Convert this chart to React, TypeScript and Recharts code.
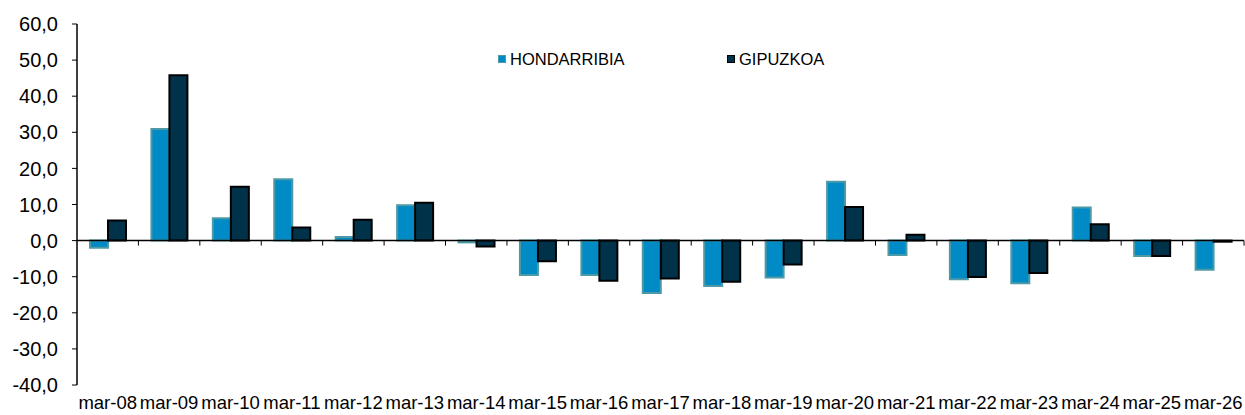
import { BarChart, Bar, XAxis, YAxis, ReferenceLine } from "recharts";

const categories = [
  "mar-08", "mar-09", "mar-10", "mar-11", "mar-12", "mar-13", "mar-14",
  "mar-15", "mar-16", "mar-17", "mar-18", "mar-19", "mar-20", "mar-21",
  "mar-22", "mar-23", "mar-24", "mar-25", "mar-26",
];
const hondarribia = [
  -2.0, 30.9, 6.2, 17.0, 1.0, 9.8, -0.5, -9.5, -9.5, -14.5, -12.6, -10.2,
  16.3, -4.0, -10.7, -11.8, 9.2, -4.3, -8.1,
];
const gipuzkoa = [
  5.6, 45.8, 14.9, 3.6, 5.8, 10.5, -1.6, -5.7, -11.1, -10.5, -11.4, -6.6,
  9.3, 1.6, -10.1, -9.0, 4.5, -4.3, -0.3,
];
const yTicks = [-40, -30, -20, -10, 0, 10, 20, 30, 40, 50, 60];

const FONT = "'Liberation Sans', Arial, sans-serif";
const H_FILL = "#008bc6";
const H_STROKE = "#4d9aa6";
const G_FILL = "#003349";
const G_STROKE = "#000000";

// zero line with small tick marks between the categories (Excel style)
function ZeroAxis(props: any) {
  const { x1, x2, y1 } = props;
  const n = categories.length;
  const step = (x2 - x1) / n;
  const ticks = [];
  for (let i = 1; i <= n; i++) {
    const x = x1 + step * i;
    ticks.push(<line key={i} x1={x} x2={x} y1={y1} y2={y1 + 5} stroke="#000" strokeWidth={1} />);
  }
  return (
    <g>
      <line x1={x1} x2={x2} y1={y1} y2={y1} stroke="#000" strokeWidth={1.5} />
      {ticks}
    </g>
  );
}

const legendItems = [
  { name: "HONDARRIBIA", fill: H_FILL, stroke: H_STROKE, left: 498 },
  { name: "GIPUZKOA", fill: G_FILL, stroke: G_STROKE, left: 727 },
];

export default function App() {
  const data = categories.map((name, i) => ({
    name,
    HONDARRIBIA: hondarribia[i],
    GIPUZKOA: gipuzkoa[i],
  }));

  return (
    <div style={{ position: "relative", width: 1245, height: 415, background: "#fff", fontFamily: FONT }}>
      <style>{`body{margin:0}`}</style>
      <BarChart
        width={1245}
        height={415}
        data={data}
        margin={{ top: 24, right: 1, bottom: 0, left: 0 }}
        barSize={18}
        barGap={0}
      >
        <XAxis
          dataKey="name"
          interval={0}
          axisLine={false}
          tickLine={false}
          tickSize={0}
          tickMargin={11}
          height={30}
          tick={{ fill: "#000", fontSize: 18.5, fontFamily: FONT }}
        />
        <YAxis
          domain={[-40, 60]}
          ticks={yTicks}
          interval={0}
          width={77}
          axisLine={{ stroke: "#000", strokeWidth: 1.5 }}
          tickLine={{ stroke: "#000" }}
          tickSize={5}
          tickMargin={14}
          tick={{ fill: "#000", fontSize: 20, fontFamily: FONT }}
          tickFormatter={(v: number) => v.toFixed(1).replace(".", ",")}
        />
        <Bar dataKey="HONDARRIBIA" fill={H_FILL} stroke={H_STROKE} strokeWidth={2} isAnimationActive={false} />
        <Bar dataKey="GIPUZKOA" fill={G_FILL} stroke={G_STROKE} strokeWidth={2} isAnimationActive={false} />
        <ReferenceLine y={0} shape={(p: any) => <ZeroAxis {...p} />} />
      </BarChart>
      {legendItems.map((it) => (
        <div
          key={it.name}
          style={{
            position: "absolute", left: it.left, top: 49, display: "flex", alignItems: "center",
            fontSize: 16.5, color: "#000", lineHeight: "20px",
          }}
        >
          <span style={{ width: 6, height: 6, background: it.fill, border: `1.5px solid ${it.stroke}`, marginRight: 4 }} />
          <span>{it.name}</span>
        </div>
      ))}
    </div>
  );
}
